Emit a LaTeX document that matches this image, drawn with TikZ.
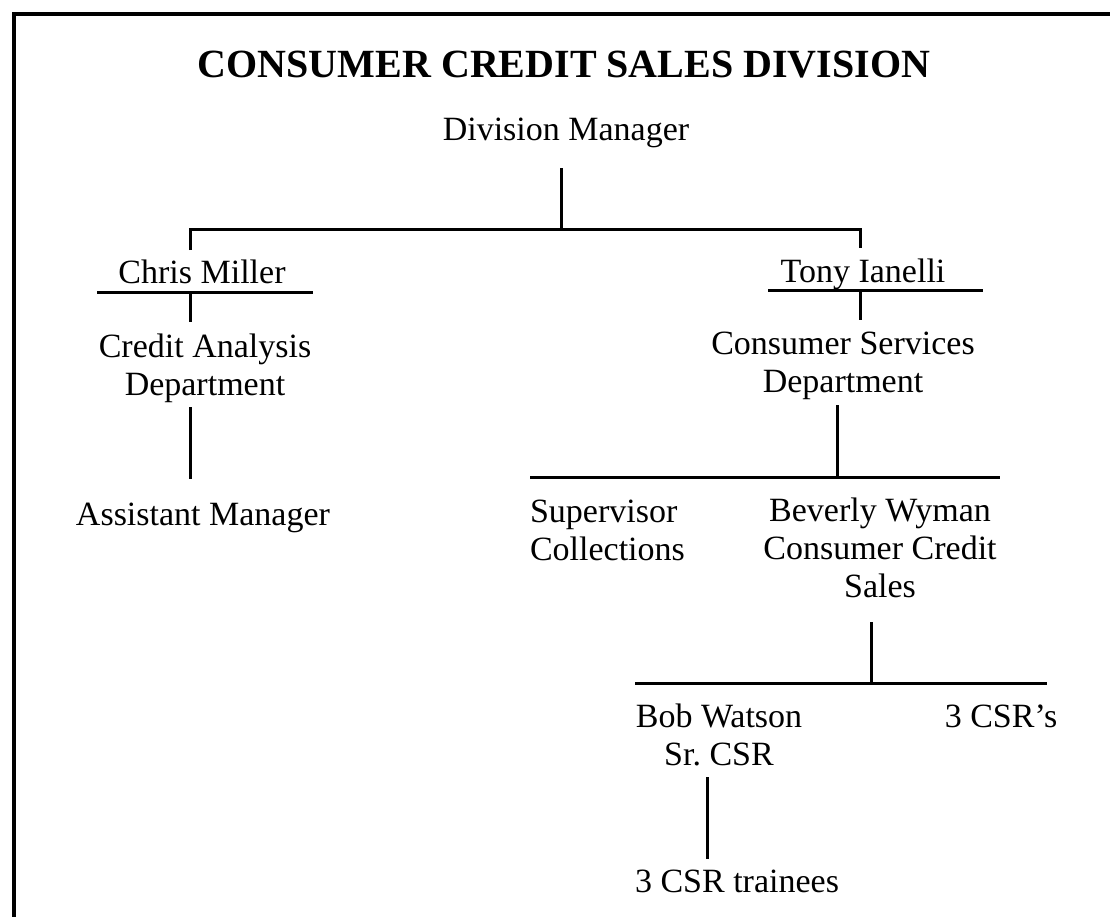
\documentclass[tikz,border=0pt]{standalone}
\usepackage{fontspec}
\setmainfont{Liberation Serif}
\frenchspacing
\begin{document}
\begin{tikzpicture}[x=1pt,y=-1pt,
  lbl/.style={inner sep=0pt,outer sep=0pt,anchor=base,align=center,
    font=\fontsize{34}{38}\selectfont},
  heading/.style={inner sep=0pt,anchor=base,font=\fontsize{40}{46}\selectfont\bfseries},
  link/.style={line width=3pt},
  frame/.style={line width=4pt}]
\useasboundingbox (0,0) rectangle (1110,916);
% outer frame (runs off the page on the right and bottom)
\draw[frame] (14,14) rectangle (1124,930);

% title
\node[heading] (title) at (564,77) {CONSUMER CREDIT SALES DIVISION};

% positions (multi-line labels are placed by the baseline of their last line)
\node[lbl] (divmgr) at (566,140) {Division Manager};
\node[lbl] (chris) at (202,283) {Chris Miller};
\node[lbl] (tony) at (863,282) {Tony Ianelli};
\node[lbl] (credit) at (205,395) {Credit Analysis\\Department};
\node[lbl] (consserv) at (843,392) {Consumer Services\\Department};
\node[lbl] (asst) at (203,525) {Assistant Manager};
\node[lbl,anchor=base west,align=left] (superv) at (530,560) {Supervisor\\Collections};
\node[lbl] (beverly) at (880,597) {Beverly Wyman\\Consumer Credit\\Sales};
\node[lbl] (bob) at (719,765) {Bob Watson\\Sr. CSR};
\node[lbl] (csrs) at (1001,727) {3 CSR's};
\node[lbl] (trainees) at (737,892) {3 CSR trainees};

% junction points of the connecting lines
\coordinate (dm-top) at (561,168);
\coordinate (dm-bar) at (561,229);
\coordinate (bar-l) at (190,229);
\coordinate (bar-r) at (860,229);
\coordinate (chris-drop) at (190,250);
\coordinate (tony-drop) at (860,248);
\coordinate (chris-ul-l) at (97,292);
\coordinate (chris-ul-r) at (313,292);
\coordinate (chris-ul-m) at (190,292);
\coordinate (credit-top) at (190,322);
\coordinate (tony-ul-l) at (768,290);
\coordinate (tony-ul-r) at (983,290);
\coordinate (tony-ul-m) at (860,290);
\coordinate (cons-top) at (860,320);
\coordinate (credit-bot) at (190,407);
\coordinate (asst-top) at (190,479);
\coordinate (cons-bot) at (837,405);
\coordinate (cons-bar) at (837,477);
\coordinate (cbar-l) at (530,477);
\coordinate (cbar-r) at (1000,477);
\coordinate (bev-bot) at (871,622);
\coordinate (bev-bar) at (871,683);
\coordinate (bbar-l) at (635,683);
\coordinate (bbar-r) at (1047,683);
\coordinate (bob-bot) at (707,777);
\coordinate (trainees-top) at (707,859);

% connectors
\draw[link] (dm-top) -- (dm-bar);
\draw[link] (chris-drop) -- (bar-l) -- (bar-r) -- (tony-drop);
\draw[link] (chris-ul-l) -- (chris-ul-r);
\draw[link] (chris-ul-m) -- (credit-top);
\draw[link] (tony-ul-l) -- (tony-ul-r);
\draw[link] (tony-ul-m) -- (cons-top);
\draw[link] (credit-bot) -- (asst-top);
\draw[link] (cons-bot) -- (cons-bar);
\draw[link] (cbar-l) -- (cbar-r);
\draw[link] (bev-bot) -- (bev-bar);
\draw[link] (bbar-l) -- (bbar-r);
\draw[link] (bob-bot) -- (trainees-top);
\end{tikzpicture}
\end{document}
